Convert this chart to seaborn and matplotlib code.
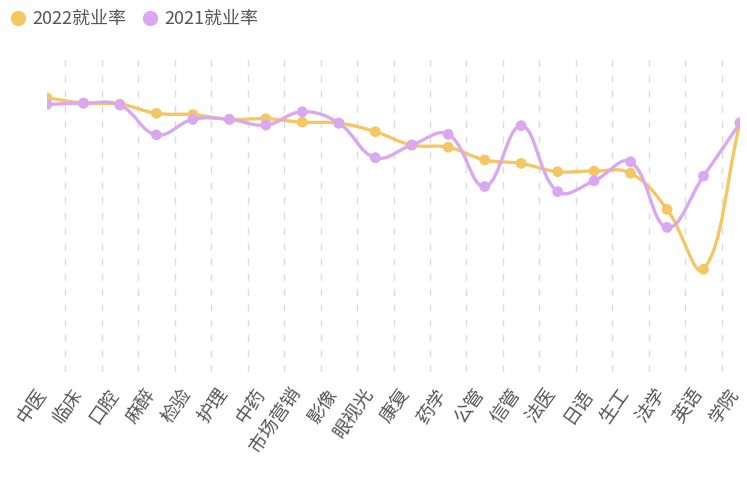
import numpy as np
import pandas as pd
import matplotlib
matplotlib.use("Agg")
import matplotlib.pyplot as plt
import matplotlib.transforms as mtransforms
from matplotlib.path import Path
from matplotlib.patches import PathPatch
from matplotlib.lines import Line2D
import seaborn as sns

categories = ["中医", "临床", "口腔", "麻醉", "检验", "护理", "中药", "市场营销", "影像", "眼视光",
              "康复", "药学", "公管", "信管", "法医", "日语", "生工", "法学", "英语", "学院"]
rate_2022 = [86.5, 84.8, 84.5, 81.6, 81.2, 79.7, 79.9, 78.8, 78.5, 75.8,
             71.6, 70.9, 66.9, 65.8, 63.2, 63.4, 62.7, 51.3, 32.4, 78.6]
rate_2021 = [84.4, 84.8, 84.2, 74.8, 79.7, 79.7, 77.9, 82.1, 78.5, 67.6,
             71.6, 75.0, 58.5, 77.7, 56.9, 60.3, 66.3, 45.6, 61.8, 78.6]
series_names = ["2022就业率", "2021就业率"]
colors = ["#F3C862", "#D9A8F1"]

sns.set_theme(style="white")
plt.rcParams["font.family"] = ["Noto Sans CJK SC", "DejaVu Sans"]

fig = plt.figure(figsize=(7.47, 4.79), dpi=100)
ax = fig.add_axes([47 / 747, (479 - 372) / 479, (740 - 47) / 747, (372 - 55) / 479])
n = len(categories)
ax.set_xlim(0, n - 1)
ax.set_ylim(0, 100)

# dashed vertical split lines between categories
for i in range(n - 1):
    ax.axvline(i + 0.5, ymin=0, ymax=0.99, color="#DCDCDC", lw=1.0,
               dashes=(5, 6), zorder=0)


def smooth_path(xs, ys, smooth=0.4, sx=36.5, sy=3.17):
    P = np.column_stack([np.asarray(xs, float) * sx, np.asarray(ys, float) * sy])
    verts = [P[0]]
    codes = [Path.MOVETO]
    m = len(P)
    cps = []
    for i in range(m):
        prev = P[i - 1] if i > 0 else P[i]
        nxt = P[i + 1] if i < m - 1 else P[i]
        v = nxt - prev
        d0 = np.linalg.norm(P[i] - prev)
        d1 = np.linalg.norm(nxt - P[i])
        s = d0 + d1
        if s == 0:
            cps.append((P[i], P[i]))
            continue
        c0 = P[i] - v * smooth * d0 / s
        c1 = P[i] + v * smooth * d1 / s
        cps.append((c0, c1))
    for i in range(m - 1):
        verts += [cps[i][1], cps[i + 1][0], P[i + 1]]
        codes += [Path.CURVE4] * 3
    verts = np.array(verts)
    verts[:, 0] /= sx
    verts[:, 1] /= sy
    return Path(verts, codes)


frames = []
for name, vals in zip(series_names, [rate_2022, rate_2021]):
    frames.append(pd.DataFrame({"idx": np.arange(n), "rate": vals, "series": name}))
df = pd.concat(frames, ignore_index=True)

for k, (name, col) in enumerate(zip(series_names, colors)):
    sub = df[df["series"] == name]
    path = smooth_path(sub["idx"], sub["rate"])
    ax.add_patch(PathPatch(path, facecolor="none", edgecolor=col, lw=2.4,
                           zorder=2 + k, capstyle="round", joinstyle="round"))

sns.scatterplot(data=df, x="idx", y="rate", hue="series", palette=colors,
                hue_order=series_names, s=60, edgecolor="none", ax=ax,
                legend=False, zorder=5)

ax.set_xticks(range(n))
ax.set_xticklabels(categories, rotation=55, ha="right", va="center",
                   rotation_mode="anchor", fontsize=13.5, color="#555555")
ax.tick_params(axis="x", length=0, pad=13)
shift = mtransforms.ScaledTranslation(-5 / 100, 0, fig.dpi_scale_trans)
for lab in ax.get_xticklabels():
    lab.set_transform(lab.get_transform() + shift)
ax.set_yticks([])
ax.set_xlabel("")
ax.set_ylabel("")
for sp in ax.spines.values():
    sp.set_visible(False)

handles = [Line2D([0], [0], marker="o", linestyle="none", markersize=11,
                  markerfacecolor=c, markeredgecolor="none") for c in colors]
fig.legend(handles, series_names, loc="upper left", bbox_to_anchor=(0.002, 0.998),
           ncol=2, frameon=False, fontsize=13, handlelength=0.8,
           handletextpad=0.4, columnspacing=0.9, labelcolor="#555555",
           borderaxespad=0.2, borderpad=0.3)

fig.savefig("out.png", dpi=100, facecolor="white")
